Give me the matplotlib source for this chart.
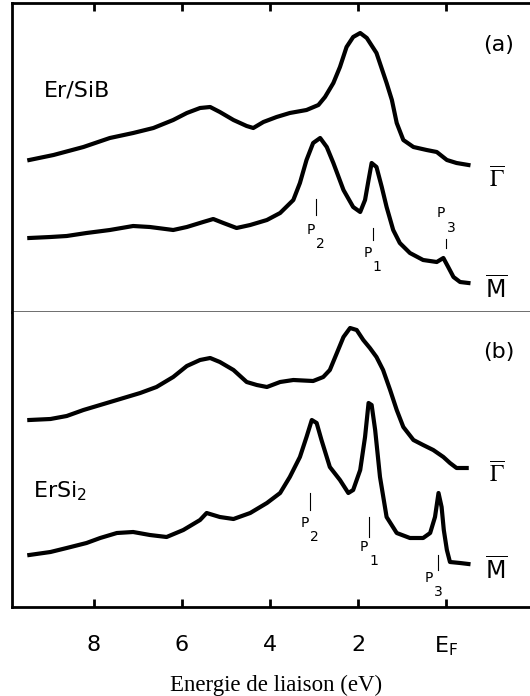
import numpy as np
import matplotlib
matplotlib.use("Agg")
import matplotlib.pyplot as plt

# binding energy (eV) and intensity (arb. units)
# panel (a) Er/SiB, Gamma-bar spectrum
e_a_gamma = [9.47, 8.92, 8.24, 7.64, 7.11, 6.65, 6.20, 5.89, 5.59, 5.36, 5.14, 4.83, 4.53,
             4.38, 4.15, 3.85, 3.55, 3.17, 2.90, 2.75, 2.56, 2.41, 2.26, 2.11, 1.95, 1.80,
             1.58, 1.35, 1.23, 1.12, 0.97, 0.74, 0.44, 0.21, -0.02, -0.24, -0.51]
i_a_gamma = [152, 157, 165, 174, 179, 184, 192, 199, 204, 205, 200, 192, 186,
             184, 190, 195, 199, 202, 207, 215, 229, 245, 265, 275, 279, 274,
             259, 229, 212, 189, 172, 165, 162, 160, 152, 149, 147]

# panel (a), M-bar spectrum
e_a_m = [9.47, 8.99, 8.62, 8.17, 7.64, 7.11, 6.73, 6.20, 5.89, 5.52, 5.29, 5.06, 4.76, 4.45,
         4.07, 3.77, 3.47, 3.32, 3.17, 3.02, 2.86, 2.71, 2.56, 2.33, 2.11, 1.95, 1.84, 1.76,
         1.69, 1.58, 1.46, 1.35, 1.20, 1.05, 0.82, 0.52, 0.21, 0.06, -0.05, -0.17, -0.32, -0.51]
i_a_m = [74, 75, 76, 79, 82, 86, 85, 82, 85, 90, 93, 89, 84, 87,
         92, 99, 112, 129, 152, 169, 174, 165, 149, 122, 105, 100, 112, 132,
         149, 145, 125, 105, 82, 69, 59, 52, 50, 54, 45, 35, 30, 29]

# panel (b) ErSi2, Gamma-bar spectrum
e_b_gamma = [9.47, 8.99, 8.62, 8.24, 7.86, 7.48, 6.95, 6.58, 6.20, 5.89, 5.59, 5.36, 5.14,
             4.83, 4.53, 4.30, 4.07, 3.77, 3.47, 3.02, 2.79, 2.64, 2.48, 2.33, 2.18, 2.03,
             1.88, 1.73, 1.58, 1.43, 1.27, 1.12, 0.97, 0.74, 0.52, 0.29, 0.06, -0.09, -0.24, -0.47]
i_b_gamma = [187, 188, 191, 197, 202, 207, 214, 220, 230, 241, 247, 249, 245,
             237, 225, 222, 220, 225, 227, 226, 230, 237, 254, 270, 279, 277,
             267, 259, 250, 237, 217, 197, 180, 167, 162, 157, 150, 144, 139, 139]

# panel (b), M-bar spectrum
e_b_m = [9.47, 8.99, 8.62, 8.17, 7.86, 7.48, 7.11, 6.73, 6.35, 5.97, 5.59, 5.44, 5.14, 4.83,
         4.45, 4.07, 3.77, 3.55, 3.32, 3.17, 3.05, 2.94, 2.83, 2.64, 2.41, 2.22, 2.11, 1.95,
         1.84, 1.76, 1.69, 1.61, 1.50, 1.35, 1.12, 0.82, 0.52, 0.36, 0.25, 0.17, 0.10, 0.05,
         -0.02, -0.09, -0.32, -0.51]
i_b_m = [52, 55, 59, 64, 69, 74, 75, 72, 70, 77, 87, 94, 90, 88,
         94, 104, 114, 130, 150, 170, 187, 184, 167, 140, 127, 114, 117, 137,
         170, 204, 202, 177, 130, 90, 74, 69, 69, 74, 90, 114, 100, 77,
         57, 45, 44, 43]

tick_pos = [8, 6, 4, 2, 0]
tick_lab = ['8', '6', '4', '2', r'E$_\mathrm{F}$']

# peak markers: energy, tick bottom, tick top
peaks_a = [(2.95, 97, 113), (1.66, 72, 84), (0.0, 64, 73)]
peaks_b = [(3.09, 97, 114), (1.75, 70, 90), (0.18, 37, 52)]

W, H = 530, 696
fig = plt.figure(figsize=(W / 100, H / 100), dpi=100)

x0 = 12 / W
x1 = 540 / W
ax_a = fig.add_axes([x0, 1 - 312 / H, x1 - x0, 309 / H])
ax_b = fig.add_axes([x0, 1 - 607 / H, x1 - x0, 295 / H])

xl = ((446 - 12) / 44, (446 - 540) / 44)
for ax in (ax_a, ax_b):
    ax.set_xlim(xl)
    ax.set_yticks([])
    ax.set_xticks(tick_pos)
    ax.tick_params(axis='x', direction='in', length=6, width=2)
    ax.spines['right'].set_visible(False)

ax_a.set_ylim(0, 309)
ax_b.set_ylim(0, 295)

lw = 3.0
ax_a.plot(e_a_gamma, i_a_gamma, color='black', lw=lw)
ax_a.plot(e_a_m, i_a_m, color='black', lw=lw)
ax_b.plot(e_b_gamma, i_b_gamma, color='black', lw=lw)
ax_b.plot(e_b_m, i_b_m, color='black', lw=lw)

# spines
ax_a.spines['top'].set_linewidth(2)
ax_a.spines['left'].set_linewidth(2)
ax_a.spines['bottom'].set_linewidth(1.2)
ax_a.spines['bottom'].set_color('#555555')
ax_b.spines['top'].set_visible(False)
ax_b.spines['left'].set_linewidth(2)
ax_b.spines['bottom'].set_linewidth(2)

ax_a.tick_params(axis='x', top=True, bottom=False, labeltop=False, labelbottom=False)
ax_b.tick_params(axis='x', top=False, bottom=True, labelbottom=True, labelsize=16, pad=20)
ax_b.set_xticklabels(tick_lab)
ax_b.set_xlabel('Energie de liaison (eV)', family='Liberation Serif', fontsize=16.5, labelpad=12)

# labels
ax_a.text(9.15, 222, 'Er/SiB', fontsize=16, va='center', ha='left')
ax_b.text(9.38, 116, 'ErSi$_2$', fontsize=16, va='center', ha='left')
ax_a.text(-0.85, 267, '(a)', fontsize=16, va='center', ha='left')
ax_b.text(-0.85, 255, '(b)', fontsize=16, va='center', ha='left')

for ax, yg, ym in ((ax_a, 132, 22), (ax_b, 132, 36)):
    ax.text(-1.15, yg, r'$\overline{\Gamma}$', fontsize=17, va='center', ha='center',
            math_fontfamily='stix')
    ax.text(-1.15, ym, r'$\overline{\mathsf{M}}$', fontsize=17, va='center', ha='center')

for ax, peaks in ((ax_a, peaks_a), (ax_b, peaks_b)):
    for e, lo, hi in peaks:
        ax.plot([e, e], [lo, hi], color='black', lw=0.8)

fs = 10
for ax, lab in ((ax_a, [(2.95, 82, '2'), (1.66, 59, '1')]),
                (ax_b, [(3.09, 84, '2'), (1.75, 60, '1')])):
    for e, y, s in lab:
        ax.text(e + 0.12, y, 'P', fontsize=fs, ha='center', va='center')
        ax.text(e - 0.10, y - 14, s, fontsize=fs, ha='center', va='center')

ax_a.text(0.12, 99, 'P', fontsize=fs, ha='center', va='center')
ax_a.text(-0.13, 84, '3', fontsize=fs, ha='center', va='center')
ax_b.text(0.40, 29, 'P', fontsize=fs, ha='center', va='center')
ax_b.text(0.18, 15, '3', fontsize=fs, ha='center', va='center')

fig.savefig('out.png', dpi=100)
